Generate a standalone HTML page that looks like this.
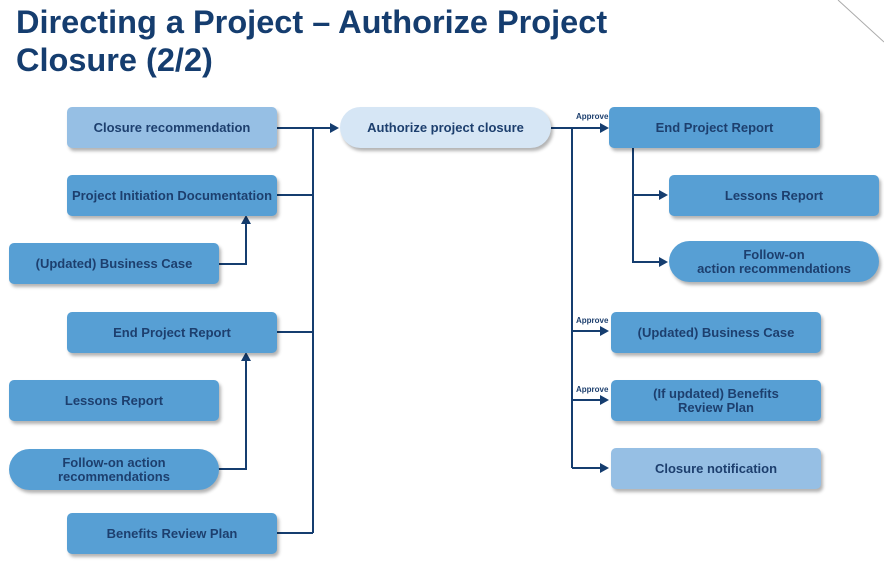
<!DOCTYPE html>
<html><head><meta charset="utf-8"><style>
body{margin:0;width:884px;height:564px;background:#fff;position:relative;overflow:hidden;font-family:"Liberation Sans",Arial,sans-serif;}
h1{position:absolute;left:16px;top:3px;margin:0;font-size:32.5px;line-height:38px;color:#153d6f;font-weight:bold;letter-spacing:0px;}
.b{position:absolute;width:210px;height:41px;background:#579fd4;border-radius:5px;box-shadow:2px 3px 3px rgba(0,0,0,0.3);display:flex;align-items:center;justify-content:center;text-align:center;font-weight:bold;font-size:13px;color:#1d3f6e;line-height:14px;}
.l{background:#96bfe4;}
.p{border-radius:21px;}
.a{position:absolute;font-size:8px;font-weight:bold;color:#1d3f6e;}
</style></head><body>
<h1>Directing a Project – Authorize Project<br>Closure (2/2)</h1>
<svg width="884" height="564" style="position:absolute;left:0;top:0">
<line x1="838" y1="0" x2="884" y2="42" stroke="#aaa" stroke-width="1"/>
<g stroke="#153d6f" stroke-width="2" fill="none">
<path d="M277 128H333M313 128V533M277 195H313M277 332H313M277 533H313"/>
<path d="M218 264H246V222M218 469H246V359"/>
<path d="M551 128H604M572 128V468M572 331H604M572 400H604M572 468H604"/>
<path d="M633 148V262H663M633 195H663"/>
</g>
<g fill="#153d6f">
<path d="M339 128l-9-5v10z"/>
<path d="M246 215l-5 9h10z"/><path d="M246 352l-5 9h10z"/>
<path d="M609 128l-9-5v10z"/><path d="M609 331l-9-5v10z"/><path d="M609 400l-9-5v10z"/><path d="M609 468l-9-5v10z"/>
<path d="M668 195l-9-5v10z"/><path d="M668 262l-9-5v10z"/>
</g>
</svg>
<div class="b l" style="left:67px;top:107px">Closure recommendation</div>
<div class="b" style="left:67px;top:175px">Project Initiation Documentation</div>
<div class="b" style="left:9px;top:243px">(Updated) Business Case</div>
<div class="b" style="left:67px;top:312px">End Project Report</div>
<div class="b" style="left:9px;top:380px">Lessons Report</div>
<div class="b p" style="left:9px;top:449px">Follow-on action<br>recommendations</div>
<div class="b" style="left:67px;top:513px">Benefits Review Plan</div>
<div class="b p" style="left:340px;top:107px;width:211px;background:#d6e6f5">Authorize project closure</div>
<div class="b" style="left:609px;top:107px;width:211px">End Project Report</div>
<div class="b" style="left:669px;top:175px">Lessons Report</div>
<div class="b p" style="left:669px;top:241px">Follow-on<br>action recommendations</div>
<div class="b" style="left:611px;top:312px">(Updated) Business Case</div>
<div class="b" style="left:611px;top:380px">(If updated) Benefits<br>Review Plan</div>
<div class="b l" style="left:611px;top:448px">Closure notification</div>
<div class="a" style="left:576px;top:112px">Approve</div>
<div class="a" style="left:576px;top:316px">Approve</div>
<div class="a" style="left:576px;top:385px">Approve</div>
</body></html>
